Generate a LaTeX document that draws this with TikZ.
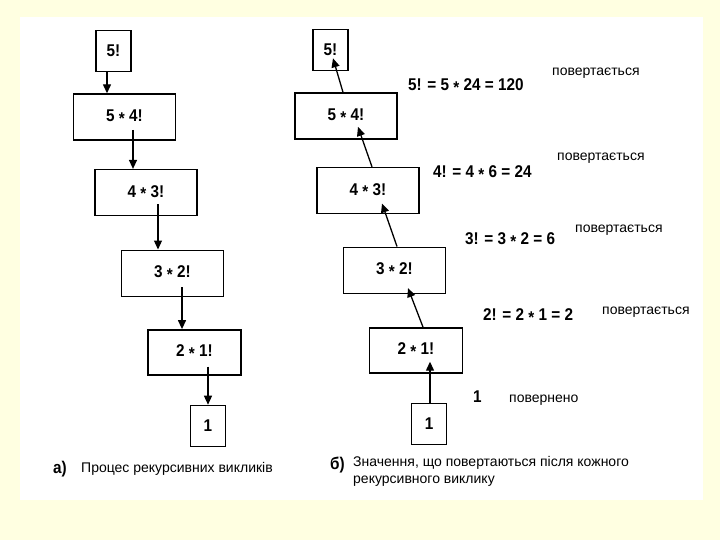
\documentclass[tikz,border=0pt]{standalone}
\usepackage{fontspec}
\setmainfont{Liberation Sans}
\newfontfamily\vuzkyj[FakeStretch=0.9]{Liberation Sans}
\usepackage{xcolor}
\usepackage{tikz}
\usetikzlibrary{arrows.meta,positioning}
\definecolor{tlo}{RGB}{255,255,225}
\newcommand{\zir}{\raisebox{-0.3ex}{*}}

\begin{document}
\begin{tikzpicture}[
  x=1pt, y=-1pt,
  blok/.style={rectangle, draw, line width=1.6pt, minimum width=102pt,
               minimum height=46pt, inner sep=0pt,
               font=\vuzkyj\bfseries\fontsize{17}{19}\selectfont},
  malyj/.style={blok, minimum width=35pt, minimum height=41pt},
  seredn/.style={blok, minimum width=93pt, minimum height=45pt},
  strilka/.style={-{Triangle[length=9pt,width=8pt]}, line width=1.3pt},
  formula/.style={anchor=west, inner sep=0pt,
                  font=\vuzkyj\bfseries\fontsize{17}{19}\selectfont},
  napys/.style={anchor=west, inner sep=0pt, font=\fontsize{14}{16}\selectfont},
  pidpys/.style={anchor=west, inner sep=0pt, align=left,
                 font=\fontsize{14}{17}\selectfont},
  litera/.style={anchor=west, inner sep=0pt,
                 font=\vuzkyj\bfseries\fontsize{17}{19}\selectfont}
]
  \useasboundingbox (0,0) rectangle (720,540);
  \fill[tlo] (0,0) rectangle (720,540);
  \fill[white] (20,17) rectangle (703,500);

  % а) виклики
  \node[malyj] (l5) at (113.5,51) {5!};
  \node[blok, below=21pt of l5, xshift=11pt] (l54) {5 \zir{} 4!};
  \node[blok, below=28pt of l54, xshift=21.5pt] (l43) {4 \zir{} 3!};
  \node[blok, below=33pt of l43, xshift=26.5pt] (l32) {3 \zir{} 2!};
  \node[seredn, below=32pt of l32, xshift=22pt] (l21) {2 \zir{} 1!};
  \node[malyj, below=29pt of l21, xshift=13.5pt] (l1) {1};

  \draw[strilka] ([xshift=-6.5pt]l5.south) -- ([xshift=-17.5pt]l54.north);
  \draw[strilka] ([xshift=8.5pt,yshift=11pt]l54.south) -- ([xshift=-13pt]l43.north);
  \draw[strilka] ([xshift=12pt,yshift=12pt]l43.south) -- ([xshift=-14.5pt]l32.north);
  \draw[strilka] ([xshift=9.5pt,yshift=10pt]l32.south) -- ([xshift=-12.5pt]l21.north);
  \draw[strilka] ([xshift=13.5pt,yshift=9pt]l21.south) -- (l1.north);

  % б) повернення
  \node[malyj] (r5) at (330.5,50) {5!};
  \node[blok, below=21pt of r5, xshift=15.5pt] (r54) {5 \zir{} 4!};
  \node[blok, below=27pt of r54, xshift=22pt] (r43) {4 \zir{} 3!};
  \node[blok, below=32pt of r43, xshift=26.5pt] (r32) {3 \zir{} 2!};
  \node[seredn, below=33pt of r32, xshift=21.5pt] (r21) {2 \zir{} 1!};
  \node[malyj, below=29pt of r21, xshift=13pt] (r1) {1};

  \draw[strilka] ([xshift=1pt]r1.north) -- ([xshift=14pt,yshift=12pt]r21.south);
  \draw[strilka] ([xshift=7pt]r21.north) -- ([xshift=13.5pt,yshift=6pt]r32.south);
  \draw[strilka] ([xshift=2.5pt]r32.north) -- ([xshift=14pt,yshift=11pt]r43.south);
  \draw[strilka] ([xshift=4pt]r43.north) -- ([xshift=12pt,yshift=13pt]r54.south);
  \draw[strilka] ([xshift=-3pt]r54.north) -- ([xshift=2.5pt,yshift=13pt]r5.south);

  \node[formula] (f5) at (408,86) {5! = 5 \zir{} 24 = 120};
  \node[formula] (f4) at (433,173) {4! = 4 \zir{} 6 = 24};
  \node[formula] (f3) at (465,240) {3! = 3 \zir{} 2 = 6};
  \node[formula] (f2) at (483,316) {2! = 2 \zir{} 1 = 2};
  \node[formula] (f1) at (473,397) {1};

  \node[napys] (p5) at (552,73) {повертається};
  \node[napys] (p4) at (557,158) {повертається};
  \node[napys] (p3) at (575,230) {повертається};
  \node[napys] (p2) at (602,312) {повертається};
  \node[napys] (p1) at (509,400) {повернено};

  % підписи
  \node[litera] (la) at (53,469) {а)};
  \node[pidpys] (ta) at (81,469) {Процес рекурсивних викликів};
  \node[litera] (lb) at (330,465) {б)};
  \node[pidpys] (tb) at (353,471) {Значення, що повертаються після кожного\\рекурсивного виклику};
\end{tikzpicture}
\end{document}
